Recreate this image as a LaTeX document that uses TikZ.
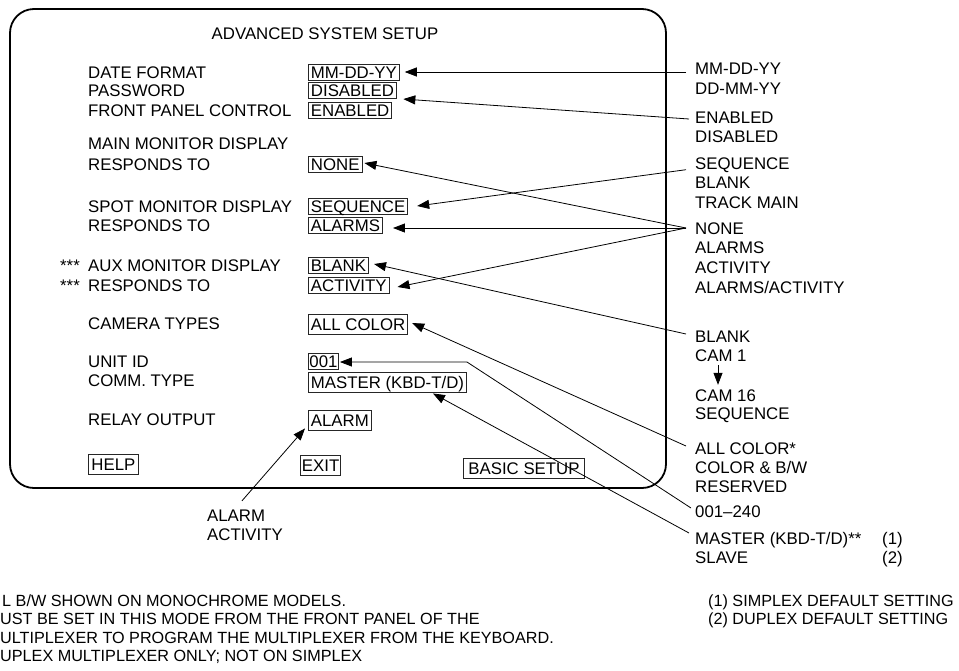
\documentclass[tikz,border=0pt]{standalone}
\usepackage{fontspec}
\setmainfont{Liberation Sans}
\usetikzlibrary{arrows.meta,calc}
\newcommand\mainfs{\fontsize{16.8}{20}\selectfont}
\newcommand\notefs{\fontsize{16.2}{19}\selectfont}
\begin{document}
\begin{tikzpicture}[x=1pt,y=-1pt,
  lbl/.style={anchor=west, inner sep=0pt, text height=12pt, text depth=0pt, font=\mainfs},
  opt/.style={anchor=west, inner sep=0pt, text height=12pt, text depth=0pt, font=\mainfs},
  note/.style={anchor=west, inner sep=0pt, text height=11.6pt, text depth=0pt, font=\notefs},
  vbox/.style={draw=black!85, line width=0.9pt, anchor=west, inner xsep=2.5pt, inner ysep=2pt, text height=12pt, text depth=0pt, font=\mainfs},
  tall/.style={minimum height=20pt},
  arr/.style={line width=0.8pt, -{Triangle[length=12pt,width=9pt]}},
  panel/.style={line width=1.8pt, rounded corners=24pt}
]
\useasboundingbox (0,0) rectangle (959,670);
\draw[panel] (10,9) rectangle (666,488);

% title
\node[lbl, anchor=center] (title) at (325,33) {ADVANCED SYSTEM SETUP};

% left labels
\node[lbl] (lDate) at (88,72.5) {DATE FORMAT};
\node[lbl] (lPass) at (88,90) {PASSWORD};
\node[lbl] (lFront) at (88,110.5) {FRONT PANEL CONTROL};
\node[lbl] (lMain) at (88,143.5) {MAIN MONITOR DISPLAY};
\node[lbl] (lMainR) at (88,164) {RESPONDS TO};
\node[lbl] (lSpot) at (88,206.5) {SPOT MONITOR DISPLAY};
\node[lbl] (lSpotR) at (88,225) {RESPONDS TO};
\node[lbl] (sAux) at (60,265) {***};
\node[lbl] (lAux) at (88,265) {AUX MONITOR DISPLAY};
\node[lbl] (sAuxR) at (60,285) {***};
\node[lbl] (lAuxR) at (88,285) {RESPONDS TO};
\node[lbl] (lCam) at (88,323.5) {CAMERA TYPES};
\node[lbl] (lUid) at (88,361) {UNIT ID};
\node[lbl] (lComm) at (88,380) {COMM. TYPE};
\node[lbl] (lRelay) at (88,419) {RELAY OUTPUT};

% value boxes
\node[vbox] (vDate) at (308,72) {MM-DD-YY};
\node[vbox] (vDis) at (308,90) {DISABLED};
\node[vbox] (vEna) at (308,110.5) {ENABLED};
\node[vbox] (vNone) at (308,164) {NONE\hspace{11pt}};
\node[vbox] (vSeq) at (308,206) {SEQUENCE};
\node[vbox] (vAlm) at (308,225.5) {ALARMS};
\node[vbox] (vBlk) at (308,265) {BLANK};
\node[vbox] (vAct) at (308,285.5) {ACTIVITY};
\node[vbox, tall] (vCol) at (308,324) {ALL COLOR};
\node[vbox, inner xsep=1pt] (vUid) at (308,361.5) {001};
\node[vbox, tall] (vCom) at (308,382) {MASTER (KBD-T/D)};
\node[vbox, tall] (vRly) at (308,420) {ALARM};
\node[vbox, tall, inner xsep=3pt] (bHelp) at (88,464) {HELP};
\node[vbox, tall, inner xsep=1.5pt] (bExit) at (300,465) {EXIT};
\node[vbox, tall, inner xsep=5pt] (bBasic) at (463,468) {BASIC SETUP};

% right column options
\node[opt] (rDate1) at (695,68.5) {MM-DD-YY};
\node[opt] (rDate2) at (695,88) {DD-MM-YY};
\node[opt] (rEna1) at (695,117) {ENABLED};
\node[opt] (rEna2) at (695,136.5) {DISABLED};
\node[opt] (rSeq1) at (695,163.5) {SEQUENCE};
\node[opt] (rSeq2) at (695,182) {BLANK};
\node[opt] (rSeq3) at (695,202) {TRACK MAIN};
\node[opt] (rNone1) at (695,228) {NONE};
\node[opt] (rNone2) at (695,247.5) {ALARMS};
\node[opt] (rNone3) at (695,267) {ACTIVITY};
\node[opt] (rNone4) at (695,287) {ALARMS/ACTIVITY};
\node[opt] (rBlk1) at (695,336) {BLANK};
\node[opt] (rBlk2) at (695,355) {CAM 1};
\node[opt] (rBlk3) at (695,395) {CAM 16};
\node[opt] (rBlk4) at (695,413.5) {SEQUENCE};
\node[opt] (rCol1) at (695,448.5) {ALL COLOR*};
\node[opt] (rCol2) at (695,467) {COLOR \& B/W};
\node[opt] (rCol3) at (695,486) {RESERVED};
\node[opt] (rUid) at (695,511) {001–240};
\node[opt] (rCom1) at (695,538) {MASTER (KBD-T/D)**};
\node[opt] (rCom1n) at (882,538) {(1)};
\node[opt] (rCom2) at (695,557) {SLAVE};
\node[opt] (rCom2n) at (882,557) {(2)};

% relay options
\node[opt] (rAA1) at (207,515) {ALARM};
\node[opt] (rAA2) at (207,534) {ACTIVITY};

% notes
\node[note] (n1) at (2,601) {L B/W SHOWN ON MONOCHROME MODELS.};
\node[note] (n2) at (0,619) {UST BE SET IN THIS MODE FROM THE FRONT PANEL OF THE};
\node[note] (n3) at (0,637.5) {ULTIPLEXER TO PROGRAM THE MULTIPLEXER FROM THE KEYBOARD.};
\node[note] (n4) at (0,656) {UPLEX MULTIPLEXER ONLY; NOT ON SIMPLEX};
\node[note] (n5) at (708,601) {(1) SIMPLEX DEFAULT SETTING};
\node[note] (n6) at (708,619) {(2) DUPLEX DEFAULT SETTING};

% connectors
\draw[arr] ($(rDate1.west)+(-9,3.5)$) -- ($(vDate.east)+(5,0)$);
\draw[arr] ($(rEna1.west)+(-6,2)$) -- ($(vEna.north east)+(11,-3)$);
\draw[arr] ($(rSeq1.south west)+(-9,0)$) -- ($(vSeq.east)+(9,0)$);
\coordinate (cNone) at ($(rNone1.west)+(-9,0)$);
\draw[arr] (cNone) -- ($(vNone.east)+(2,-1)$);
\draw[arr] (cNone) -- ($(vAlm.east)+(10,2.5)$);
\draw[arr] (cNone) -- ($(vAct.east)+(8,1.5)$);
\draw[arr] ($(rBlk1.west)+(-9,-2)$) -- ($(vBlk.east)+(5,-1)$);
\draw[arr] ($(rBlk2.south west)+(23,4)$) -- ($(rBlk3.north west)+(23,-4)$);
\draw[arr] ($(rCol1.west)+(-9,-2.5)$) -- ($(vCol.east)+(4,-1)$);
\coordinate (uTip) at ($(vUid.east)+(1,0.5)$);
\draw[arr] ($(rUid.west)+(-4,-3)$) -- (vCom.north east |- uTip) -- (uTip);
\draw[arr] ($(rCom1.west)+(-6,-5)$) -- ($(vCom.south east)+(-34,1)$);
\draw[arr] ($(rAA1.north west)+(35,-8)$) -- ($(vRly.south west)+(-3,-2)$);
\end{tikzpicture}
\end{document}
